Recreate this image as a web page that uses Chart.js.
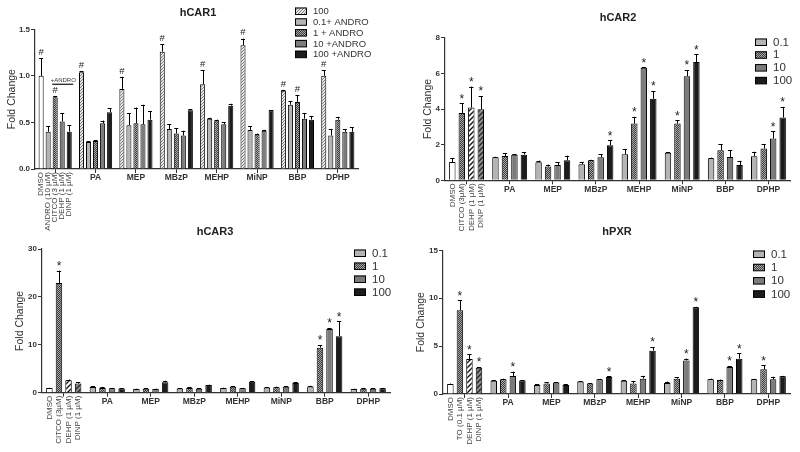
<!DOCTYPE html>
<html><head><meta charset="utf-8">
<script src="https://cdn.jsdelivr.net/npm/chart.js@4.4.0/dist/chart.umd.min.js"></script>
<style>
html,body{margin:0;padding:0;background:#fff;}
#wrap{position:relative;width:800px;height:452px;overflow:hidden;}
canvas{position:absolute;left:0;top:0;}
</style></head><body>
<div id="wrap">
<canvas id="c1" width="800" height="452"></canvas>
<canvas id="c2" width="800" height="452"></canvas>
<canvas id="c3" width="800" height="452"></canvas>
<canvas id="c4" width="800" height="452"></canvas>
</div>
<script>
// ---------- shared categories ----------
const groups = ['', 'PA', 'MEP', 'MBzP', 'MEHP', 'MiNP', 'BBP', 'DPHP'];

// ---------- hCAR1 ----------
const car1Controls = ['DMSO', 'ANDRO (10 \u00b5M)', 'CITCO (3 \u00b5M)', 'DEHP (1 \u00b5M)', 'DINP (1 \u00b5M)'];
const car1Series = ['100', '0.1+ ANDRO', '1 + ANDRO', '10 +ANDRO', '100 +ANDRO'];
const car1_100   = [1.00, 1.04, 0.86, 1.26, 0.91, 1.33, 0.84, 1.00];
const car1_01A   = [0.40, 0.29, 0.47, 0.43, 0.54, 0.42, 0.69, 0.36];
const car1_1A    = [0.77, 0.30, 0.49, 0.38, 0.52, 0.37, 0.72, 0.53];
const car1_10A   = [0.51, 0.49, 0.48, 0.36, 0.48, 0.41, 0.54, 0.40];
const car1_100A  = [0.40, 0.61, 0.53, 0.63, 0.68, 0.63, 0.53, 0.40];
const car1Err_100  = [0.19, 0.01, 0.13, 0.08, 0.15, 0.07, 0.01, 0.06];
const car1Err_01A  = [0.06, 0.01, 0.13, 0.05, 0.01, 0.04, 0.04, 0.07];
const car1Err_1A   = [0.01, 0.01, 0.17, 0.06, 0.01, 0.01, 0.07, 0.03];
const car1Err_10A  = [0.09, 0.03, 0.21, 0.05, 0.02, 0.01, 0.06, 0.03];
const car1Err_100A = [0.07, 0.04, 0.09, 0.01, 0.02, 0.00, 0.04, 0.05];
const car1Mark_100 = ['#', '#', '#', '#', '#', '#', '#', '#'];
const car1Mark_1A  = ['#', '', '', '', '', '', '#', ''];
const car1Ticks = [0, 0.5, 1.0, 1.5];

// ---------- hCAR2 ----------
const car2Controls = ['DMSO', 'CITCO (3\u00b5M)', 'DEHP (1 \u00b5M)', 'DINP (1 \u00b5M)'];
const doseSeries = ['0.1', '1', '10', '100'];
const car2_01  = [1.02, 1.29, 1.01, 0.90, 1.46, 1.54, 1.24, 1.35];
const car2_1   = [3.78, 1.36, 0.77, 1.12, 3.18, 3.18, 1.69, 1.78];
const car2_10  = [4.08, 1.44, 0.86, 1.29, 6.31, 5.84, 1.31, 2.34];
const car2_100 = [3.98, 1.44, 1.12, 1.97, 4.57, 6.63, 0.86, 3.52];
const car2Err_01  = [0.22, 0.03, 0.09, 0.10, 0.28, 0.02, 0.03, 0.25];
const car2Err_1   = [0.53, 0.15, 0.11, 0.03, 0.38, 0.19, 0.33, 0.24];
const car2Err_10  = [1.18, 0.04, 0.15, 0.17, 0.03, 0.34, 0.38, 0.41];
const car2Err_100 = [0.74, 0.13, 0.26, 0.28, 0.43, 0.43, 0.23, 0.60];
const car2Mark_1   = ['*', '', '', '', '*', '*', '', ''];
const car2Mark_10  = ['*', '', '', '', '*', '*', '', '*'];
const car2Mark_100 = ['*', '', '', '*', '*', '*', '', '*'];
const car2Ticks = [0, 2, 4, 6, 8];

// ---------- hCAR3 ----------
const car3Controls = ['DMSO', 'CITCO (3\u00b5M)', 'DEHP (1 \u00b5M)', 'DINP (1 \u00b5M)'];
const car3_01  = [1.0, 1.2, 0.8, 0.9, 1.0, 1.1, 1.3, 0.8];
const car3_1   = [22.9, 1.0, 0.85, 1.0, 1.25, 1.15, 9.4, 0.85];
const car3_10  = [2.6, 0.95, 0.8, 0.8, 0.95, 1.25, 13.3, 0.85];
const car3_100 = [1.9, 0.9, 2.2, 1.6, 2.3, 2.0, 11.8, 0.95];
const car3Err_01  = [0.05, 0.15, 0.05, 0.05, 0.05, 0.05, 0.15, 0.05];
const car3Err_1   = [2.6, 0.1, 0.1, 0.1, 0.1, 0.1, 0.55, 0.05];
const car3Err_10  = [0.15, 0.05, 0.05, 0.1, 0.05, 0.1, 0.2, 0.05];
const car3Err_100 = [0.3, 0.05, 0.3, 0.1, 0.1, 0.15, 3.1, 0.05];
const car3Mark_1   = ['*', '', '', '', '', '', '*', ''];
const car3Mark_10  = ['', '', '', '', '', '', '*', ''];
const car3Mark_100 = ['', '', '', '', '', '', '*', ''];
const car3Ticks = [0, 10, 20, 30];

// ---------- hPXR ----------
const pxrControls = ['DMSO', 'TO (0.1 \u00b5M)', 'DEHP (1 \u00b5M)', 'DINP (1 \u00b5M)'];
const pxr_01  = [1.04, 1.39, 0.95, 1.30, 1.39, 1.15, 1.53, 1.53];
const pxr_1   = [8.74, 1.55, 1.10, 1.10, 1.10, 1.60, 1.46, 2.58];
const pxr_10  = [3.65, 1.88, 1.20, 1.53, 1.60, 3.50, 2.82, 1.53];
const pxr_100 = [2.75, 1.40, 0.95, 1.78, 4.52, 9.05, 3.69, 1.84];
const pxrErr_01  = [0.05, 0.05, 0.05, 0.05, 0.03, 0.15, 0.08, 0.05];
const pxrErr_1   = [1.04, 0.05, 0.15, 0.05, 0.26, 0.15, 0.05, 0.42];
const pxrErr_10  = [0.49, 0.45, 0.05, 0.05, 0.30, 0.20, 0.10, 0.27];
const pxrErr_100 = [0.05, 0.05, 0.05, 0.05, 0.38, 0.05, 0.56, 0.05];
const pxrMark_1   = ['*', '', '', '', '', '', '', '*'];
const pxrMark_10  = ['*', '*', '', '', '', '*', '*', ''];
const pxrMark_100 = ['*', '', '', '*', '*', '*', '*', ''];
const pxrTicks = [0, 5, 10, 15];

const empty8 = ['', '', '', '', '', '', '', ''];

// ---------- fills ----------
function makePattern(bg, fg, kind, size, lw) {
  const c = document.createElement('canvas');
  c.width = size; c.height = size;
  const x = c.getContext('2d');
  x.fillStyle = bg; x.fillRect(0, 0, size, size);
  if (kind === 'checker') {
    x.fillStyle = fg;
    for (let i = 0; i < size; i++) for (let j = 0; j < size; j++) if ((i + j) % 2 === 0) x.fillRect(i, j, 1, 1);
    return c.getContext('2d').createPattern(c, 'repeat');
  }
  x.strokeStyle = fg; x.lineWidth = lw;
  x.beginPath();
  if (kind === 'diag' || kind === 'cross') {
    x.moveTo(-1, size + 1); x.lineTo(size + 1, -1);
    x.moveTo(-1, 1); x.lineTo(1, -1);
    x.moveTo(size - 1, size + 1); x.lineTo(size + 1, size - 1);
  }
  if (kind === 'cross') {
    x.moveTo(-1, -1); x.lineTo(size + 1, size + 1);
    x.moveTo(size - 1, -1); x.lineTo(size + 1, 1);
    x.moveTo(-1, size - 1); x.lineTo(1, size + 1);
  }
  x.stroke();
  return c.getContext('2d').createPattern(c, 'repeat');
}
const F_WHITE = '#ffffff';
const F_LIGHT = '#b4b4b4';
const F_GRAY = '#7c7c7c';
const F_BLACK = '#1c1c1c';
const F_HATCH = makePattern('#e6e6e6', '#7e7e7e', 'diag', 3, 1);
const F_CHECK = makePattern('#3e3e3e', '#a8a8a8', 'checker', 4, 1);
const F_STRIPE_W = makePattern('#ffffff', '#111111', 'diag', 5, 1.4);
const F_STRIPE_G = makePattern('#8e8e8e', '#262626', 'diag', 5, 1.4);

// ---------- chart builder ----------
function buildChart(id, p) {
  const datasets = p.values.map((vals, di) => ({
    label: p.series[di],
    data: vals,
    backgroundColor: (ctx) => ctx.dataIndex === 0 ? p.controlFills[di] : p.seriesFills[di],
    borderColor: '#000',
    borderWidth: 1,
    borderSkipped: 'start',
    categoryPercentage: p.catPct,
    barPercentage: p.barPct
  }));

  const extras = {
    id: 'extras_' + id,
    afterDatasetsDraw(chart) {
      const ctx = chart.ctx, ys = chart.scales.y;
      ctx.save();
      chart.data.datasets.forEach((ds, di) => {
        const meta = chart.getDatasetMeta(di);
        meta.data.forEach((bar, i) => {
          const v = ds.data[i], e = p.errors[di][i];
          const top = ys.getPixelForValue(v + e);
          const cap = Math.max(2, bar.width * 0.33);
          ctx.strokeStyle = '#000'; ctx.lineWidth = 1;
          ctx.beginPath();
          ctx.moveTo(Math.round(bar.x) + 0.5, bar.y);
          ctx.lineTo(Math.round(bar.x) + 0.5, top);
          ctx.moveTo(bar.x - cap, Math.round(top) + 0.5);
          ctx.lineTo(bar.x + cap, Math.round(top) + 0.5);
          ctx.stroke();
          const m = p.marks[di][i];
          if (m) {
            ctx.fillStyle = '#222';
            ctx.textAlign = 'center';
            if (m === '*') {
              ctx.font = '12px Arial';
              ctx.textBaseline = 'top';
              ctx.fillText(m, bar.x, top - 10);
            } else {
              ctx.font = '9.5px Arial';
              ctx.textBaseline = 'bottom';
              ctx.fillText(m, bar.x, top - 1);
            }
          }
        });
      });
      ctx.restore();
    },
    afterDraw(chart) {
      const ctx = chart.ctx, ca = chart.chartArea;
      ctx.save();
      // title
      ctx.fillStyle = '#222';
      ctx.font = 'bold 11px Arial';
      ctx.textAlign = 'center'; ctx.textBaseline = 'middle';
      ctx.fillText(p.title, p.titleX, p.titleY);
      // legend
      ctx.font = p.legendFont + 'px Arial';
      ctx.textAlign = 'left';
      p.series.forEach((s, di) => {
        const y = p.legendY + di * p.legendStep;
        ctx.fillStyle = p.seriesFills[di];
        ctx.fillRect(p.legendX, y - 3.5, 12, 7);
        ctx.strokeStyle = '#000'; ctx.lineWidth = 1;
        ctx.strokeRect(p.legendX + 0.5, y - 3, 11, 6.5);
        ctx.fillStyle = '#333';
        ctx.fillText(s, p.legendX + 18, y + 0.5);
      });
      // rotated control labels
      ctx.font = '8px Arial';
      ctx.fillStyle = '#444';
      ctx.textAlign = 'right'; ctx.textBaseline = 'middle';
      p.controls.forEach((lab, di) => {
        const bar = chart.getDatasetMeta(di).data[0];
        ctx.save();
        ctx.translate(bar.x, ca.bottom + 3);
        ctx.rotate(-Math.PI / 2);
        ctx.fillText(lab, 0, 0);
        ctx.restore();
      });
      // +ANDRO bracket
      if (p.andro) {
        const b1 = chart.getDatasetMeta(2).data[0];
        const b2 = chart.getDatasetMeta(4).data[0];
        const yy = chart.scales.y.getPixelForValue(p.andro);
        ctx.strokeStyle = '#111'; ctx.lineWidth = 1.2;
        ctx.beginPath();
        ctx.moveTo(b1.x - 3, yy); ctx.lineTo(b2.x + 4, yy);
        ctx.stroke();
        ctx.font = '6px Arial'; ctx.fillStyle = '#333';
        ctx.textAlign = 'center'; ctx.textBaseline = 'bottom';
        ctx.fillText('+ANDRO', (b1.x + b2.x) / 2 + 1, yy - 1);
      }
      ctx.restore();
    }
  };

  return new Chart(document.getElementById(id), {
    type: 'bar',
    data: { labels: groups, datasets },
    options: {
      responsive: false,
      animation: false,
      events: [],
      layout: { padding: p.padding },
      plugins: { legend: { display: false }, title: { display: false }, tooltip: { enabled: false } },
      scales: {
        x: {
          grid: { display: true, drawOnChartArea: false, drawTicks: true, tickLength: 4, offset: false, color: '#333' },
          border: { display: true, color: '#333', width: 1.2 },
          ticks: { font: { family: 'Arial', size: 8.5, weight: 'bold' }, color: '#333', padding: 0, maxRotation: 0, autoSkip: false },
          afterFit: (s) => { s.height = 30; }
        },
        y: {
          min: p.ticks[0], max: p.ticks[p.ticks.length - 1],
          afterBuildTicks: (s) => { s.ticks = p.ticks.map(v => ({ value: v })); },
          grid: { display: true, drawOnChartArea: false, drawTicks: true, tickLength: 4, color: '#333' },
          border: { display: true, color: '#333', width: 1.2 },
          ticks: { font: { family: 'Arial', size: 8, weight: 'bold' }, color: '#333', padding: 1,
                   callback: (v) => p.decimals ? Number(v).toFixed(p.decimals) : String(v) },
          title: { display: true, text: 'Fold Change', font: { family: 'Arial', size: 10.5 }, color: '#333' },
          afterFit: (s) => { s.width = p.yWidth; }
        }
      }
    },
    plugins: [extras]
  });
}

const doseSeriesFills = [F_LIGHT, F_CHECK, F_GRAY, F_BLACK];
const doseControlFills = [F_WHITE, F_CHECK, F_STRIPE_W, F_STRIPE_G];

buildChart('c1', {
  title: 'hCAR1', titleX: 198, titleY: 13,
  series: car1Series, controls: car1Controls,
  values: [car1_100, car1_01A, car1_1A, car1_10A, car1_100A],
  errors: [car1Err_100, car1Err_01A, car1Err_1A, car1Err_10A, car1Err_100A],
  marks: [car1Mark_100, empty8, car1Mark_1A, empty8, empty8],
  seriesFills: [F_HATCH, F_LIGHT, F_CHECK, F_GRAY, F_BLACK],
  controlFills: [F_WHITE, F_LIGHT, F_CHECK, F_GRAY, F_BLACK],
  ticks: car1Ticks, decimals: 1,
  catPct: 0.87, barPct: 0.72,
  padding: { left: 1.7, top: 29.3, right: 442, bottom: 253 }, yWidth: 33.3,
  legendX: 295, legendY: 11, legendStep: 10.8, legendFont: 9.5,
  andro: 0.91
});

buildChart('c2', {
  title: 'hCAR2', titleX: 618, titleY: 18,
  series: doseSeries, controls: car2Controls,
  values: [car2_01, car2_1, car2_10, car2_100],
  errors: [car2Err_01, car2Err_1, car2Err_10, car2Err_100],
  marks: [empty8, car2Mark_1, car2Mark_10, car2Mark_100],
  seriesFills: doseSeriesFills, controlFills: doseControlFills,
  ticks: car2Ticks, decimals: 0,
  catPct: 0.88, barPct: 0.68,
  padding: { left: 418, top: 37.7, right: 10, bottom: 241.7 }, yWidth: 27,
  legendX: 755, legendY: 42, legendStep: 12.8, legendFont: 11.5
});

buildChart('c3', {
  title: 'hCAR3', titleX: 215, titleY: 232,
  series: doseSeries, controls: car3Controls,
  values: [car3_01, car3_1, car3_10, car3_100],
  errors: [car3Err_01, car3Err_1, car3Err_10, car3Err_100],
  marks: [empty8, car3Mark_1, car3Mark_10, car3Mark_100],
  seriesFills: doseSeriesFills, controlFills: doseControlFills,
  ticks: car3Ticks, decimals: 0,
  catPct: 0.88, barPct: 0.68,
  padding: { left: 9.7, top: 249, right: 410, bottom: 29.3 }, yWidth: 32.3,
  legendX: 354, legendY: 253, legendStep: 13, legendFont: 11.5
});

buildChart('c4', {
  title: 'hPXR', titleX: 617, titleY: 232,
  series: doseSeries, controls: pxrControls,
  values: [pxr_01, pxr_1, pxr_10, pxr_100],
  errors: [pxrErr_01, pxrErr_1, pxrErr_10, pxrErr_100],
  marks: [empty8, pxrMark_1, pxrMark_10, pxrMark_100],
  seriesFills: doseSeriesFills, controlFills: doseControlFills,
  ticks: pxrTicks, decimals: 0,
  catPct: 0.88, barPct: 0.68,
  padding: { left: 410.4, top: 250.3, right: 10, bottom: 28 }, yWidth: 32.6,
  legendX: 753, legendY: 254, legendStep: 13.3, legendFont: 11.5
});
</script>
</body></html>
